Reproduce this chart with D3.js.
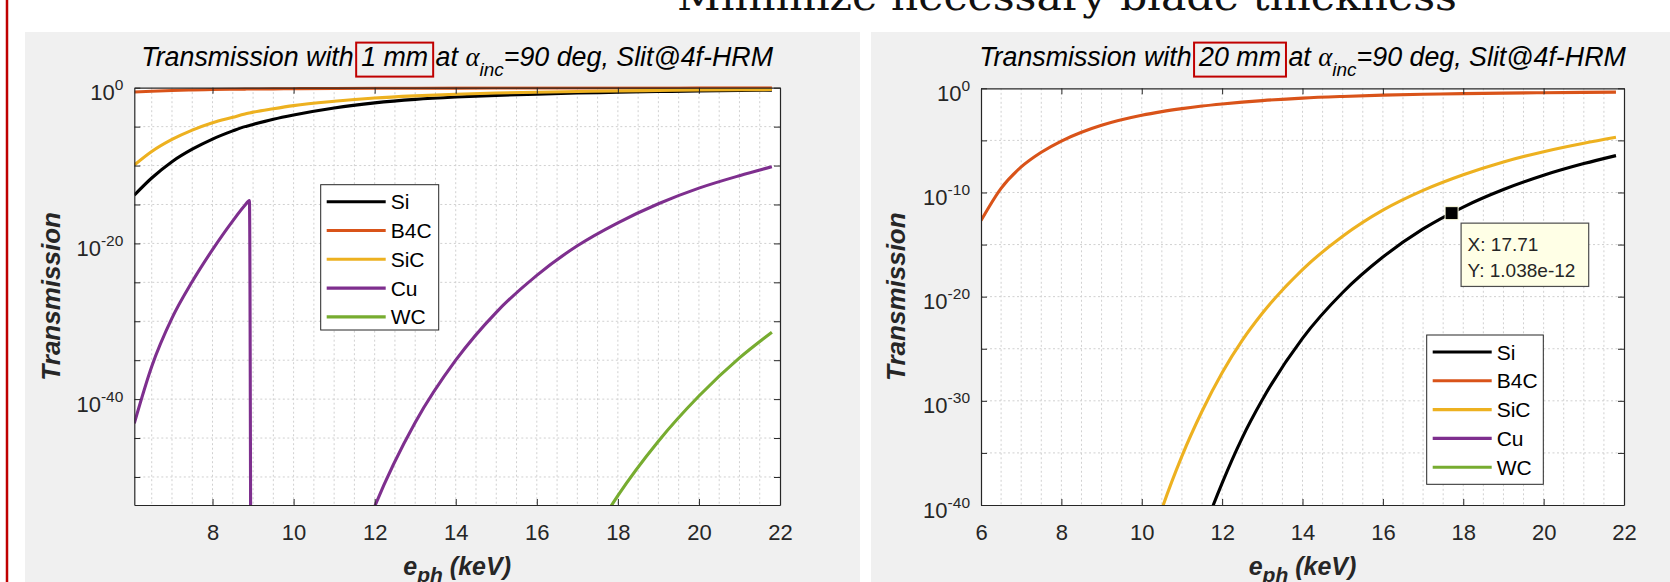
<!DOCTYPE html>
<html>
<head>
<meta charset="utf-8">
<script src="https://cdn.jsdelivr.net/npm/d3@7/dist/d3.min.js"></script>
<style>
  body { margin: 0; background: #fff; }
  svg { display: block; font-family: "Liberation Sans", Arial, Helvetica, sans-serif; }
</style>
</head>
<body>
<svg id="fig" width="1670" height="582"></svg>
<script>
// photon energy (keV) and log10(transmission)
const materials = ["Si", "B4C", "SiC", "Cu", "WC"];

const energy1mm = [6.07, 6.5, 7, 7.5, 8, 8.5, 8.8, 8.91, 8.98, 9.5, 10, 11, 12, 13, 14, 15, 16, 17, 18, 19, 20, 21, 21.8];
const si1mm  = [-13.8, -11.6, -9.5, -7.9, -6.6, -5.55, -5.0, -4.85, -4.75, -4.05, -3.5, -2.6, -1.95, -1.5, -1.2, -0.98, -0.82, -0.69, -0.58, -0.49, -0.42, -0.36, -0.32];
const b4c1mm = [-0.55, -0.45, -0.36, -0.29, -0.24, -0.2, -0.18, -0.17, -0.17, -0.15, -0.13, -0.1, -0.08, -0.067, -0.055, -0.048, -0.042, -0.038, -0.034, -0.031, -0.028, -0.026, -0.024];
const sic1mm = [-9.94, -8.2, -6.65, -5.45, -4.5, -3.8, -3.38, -3.25, -3.17, -2.7, -2.3, -1.75, -1.33, -1.05, -0.84, -0.69, -0.58, -0.49, -0.42, -0.36, -0.3, -0.26, -0.24];
const cu1mm  = [-43.1, -35.8, -29.6, -24.9, -20.8, -17.1, -15.1, -14.5, -120, -103, -89.4, -68.5, -53.8, -43.0, -35.0, -28.85, -24.1, -20.3, -17.35, -14.9, -12.9, -11.3, -10.15];
const wc1mm  = [null, null, null, null, null, null, null, null, null, null, null, null, null, null, -102.6, -85.3, -71.8, -61.1, -52.4, -45.4, -39.6, -34.7, -31.4];

const energy20mm = [6, 6.5, 7, 7.5, 8, 8.5, 9, 10, 10.5, 11, 11.5, 12, 12.5, 13, 14, 15, 16, 17, 18, 19, 20, 21, 21.8];
const si20mm  = [null, null, null, null, null, null, -95, -67, -57, -49.0, -42.9, -37.9, -33.55, -29.9, -24.0, -19.6, -16.2, -13.5, -11.4, -9.72, -8.35, -7.23, -6.46];
const b4c20mm = [-12.7, -9.6, -7.55, -6.14, -5.06, -4.22, -3.55, -2.59, -2.24, -1.95, -1.7, -1.5, -1.33, -1.18, -0.94, -0.78, -0.655, -0.57, -0.51, -0.46, -0.42, -0.39, -0.37];
const sic20mm = [null, null, null, null, null, -75, -63, -46.7, -40.4, -35.3, -31.0, -27.3, -24.2, -21.6, -17.4, -14.2, -11.7, -9.8, -8.3, -7.07, -6.08, -5.27, -4.7];
const cu20mm  = [-880, -708, -586, -490, -410, -344, -2300, -1780, -1560, -1370, -1210, -1064, -950, -872, -700, -580, -484, -408, -350, -300, -258, -222, -203];
const wc20mm  = [null, null, null, null, null, null, null, null, null, null, null, null, null, null, null, null, -1436, -1222, -1048, -908, -792, -694, -628];

const xTicks1mm = [8, 10, 12, 14, 16, 18, 20, 22];
const xTicks20mm = [6, 8, 10, 12, 14, 16, 18, 20, 22];
const yTicks1mm = [0, -5, -10, -15, -20, -25, -30, -35, -40, -45, -50];
const yLabels1mm = [0, -20, -40];
const yTicks20mm = [0, -5, -10, -15, -20, -25, -30, -35, -40];
const yLabels20mm = [0, -10, -20, -30, -40];

// data tip on the 20 mm Si curve
const tipEnergy = 17.71;
const tipTrans = 1.038e-12;

const colors = ["#000000", "#D95319", "#EDB120", "#7E2F8E", "#77AC30"];
const ink = "#262626";

const svg = d3.select("#fig");

// slide decoration: red rule on the left, heading cut off at top
svg.append("line").attr("x1", 7).attr("x2", 7).attr("y1", 0).attr("y2", 582)
  .attr("stroke", "#c00000").attr("stroke-width", 2.5);
svg.append("text").attr("x", 1067).attr("y", 10).attr("text-anchor", "middle")
  .attr("font-family", "'DejaVu Serif', 'Liberation Serif', serif").attr("font-size", 40)
  .attr("textLength", 780).attr("lengthAdjust", "spacingAndGlyphs")
  .attr("fill", "#111").text("Minimize necessary blade thickness");

function drawPanel(p) {
  const x = d3.scaleLinear().domain(p.xDomain).range([p.left, p.right]);
  const y = d3.scaleLinear().domain([p.yMin, 0]).range([p.bottom, p.top]);
  const g = svg.append("g");

  g.append("rect").attr("x", p.bgX).attr("y", 32).attr("width", p.bgW).attr("height", 550).attr("fill", "#f0f0f0");
  g.append("rect").attr("x", p.left).attr("y", p.top)
    .attr("width", p.right - p.left).attr("height", p.bottom - p.top).attr("fill", "#fff");

  // dotted grid: every 0.5 keV, every 5 decades
  const gx = d3.range(Math.ceil(p.xDomain[0] * 2) / 2, p.xDomain[1] + 0.001, 0.5)
    .filter(v => v > p.xDomain[0] && v < p.xDomain[1]);
  g.append("g").selectAll("line").data(gx).join("line")
    .attr("x1", d => x(d)).attr("x2", d => x(d)).attr("y1", p.top).attr("y2", p.bottom)
    .attr("stroke", "#d0d0d0").attr("stroke-dasharray", "2,2.5");
  g.append("g").selectAll("line").data(p.yTicks.filter(v => v > p.yMin && v < 0)).join("line")
    .attr("x1", p.left).attr("x2", p.right).attr("y1", d => y(d)).attr("y2", d => y(d))
    .attr("stroke", "#d0d0d0").attr("stroke-dasharray", "2,2.5");

  // curves
  const clipId = "clip" + p.id;
  svg.append("clipPath").attr("id", clipId).append("rect")
    .attr("x", p.left).attr("y", p.top - 1.5).attr("width", p.right - p.left).attr("height", p.bottom - p.top + 1.5);
  const line = d3.line()
    .defined(d => d[1] != null)
    .x(d => x(d[0])).y(d => y(d[1]))
    .curve(d3.curveMonotoneX);
  const lines = g.append("g").attr("clip-path", "url(#" + clipId + ")");
  p.series.forEach((vals, i) => {
    lines.append("path").datum(p.energy.map((e, k) => [e, vals[k]]))
      .attr("d", line).attr("fill", "none").attr("stroke", colors[i])
      .attr("stroke-width", 3.1).attr("stroke-linejoin", "round");
  });

  // axes, ticks pointing inward on all four sides
  const axisStyle = sel => {
    sel.selectAll("path.domain").attr("stroke", ink).attr("stroke-width", 1.2);
    sel.selectAll(".tick line").attr("stroke", ink).attr("stroke-width", 1);
  };
  g.append("g").attr("transform", "translate(0," + p.bottom + ")")
    .call(d3.axisBottom(x).tickValues(p.xTicks).tickSize(-6).tickSizeOuter(0).tickPadding(19.5).tickFormat(d3.format("d")))
    .call(axisStyle)
    .call(s => s.selectAll("text").attr("fill", ink).attr("font-size", 22).attr("font-family", null));
  g.append("g").attr("transform", "translate(0," + p.top + ")")
    .call(d3.axisTop(x).tickValues(p.xTicks).tickSize(-6).tickSizeOuter(0).tickFormat(""))
    .call(axisStyle);
  g.append("g").attr("transform", "translate(" + p.left + ",0)")
    .call(d3.axisLeft(y).tickValues(p.yTicks).tickSize(-6).tickSizeOuter(0).tickFormat(""))
    .call(axisStyle);
  g.append("g").attr("transform", "translate(" + p.right + ",0)")
    .call(d3.axisRight(y).tickValues(p.yTicks).tickSize(-6).tickSizeOuter(0).tickFormat(""))
    .call(axisStyle);

  // 10^n labels
  const yl = g.append("g").selectAll("text").data(p.yLabels).join("text")
    .attr("x", p.left - 11).attr("y", d => y(d) + 12.5)
    .attr("text-anchor", "end").attr("font-size", 22).attr("fill", ink);
  yl.append("tspan").text("10");
  yl.append("tspan").attr("dy", -10).attr("font-size", 15.5).text(d => d === 0 ? "0" : String(d));

  // axis labels
  g.append("text").attr("transform", "translate(" + p.yLabelX + "," + ((p.top + p.bottom) / 2) + ") rotate(-90)")
    .attr("text-anchor", "middle").attr("font-size", 26).attr("font-weight", "bold").attr("font-style", "italic")
    .attr("fill", ink).text("Transmission");
  const xl = g.append("text").attr("x", (p.left + p.right) / 2).attr("y", 575)
    .attr("text-anchor", "middle").attr("font-size", 25).attr("font-weight", "bold").attr("font-style", "italic")
    .attr("fill", ink);
  xl.append("tspan").text("e");
  xl.append("tspan").attr("dy", 7).attr("font-size", 21).text("ph");
  xl.append("tspan").attr("dy", -7).text(" (keV)");

  // title with boxed thickness
  const pre = "Transmission with ";
  const t = g.append("text").attr("x", (p.left + p.right) / 2).attr("y", 66)
    .attr("text-anchor", "middle").attr("font-size", 26.8).attr("font-style", "italic").attr("fill", "#000");
  t.append("tspan").text(pre);
  t.append("tspan").text(p.thickness);
  t.append("tspan").text(" at ");
  t.append("tspan").attr("font-family", "'Liberation Serif', serif").text("α");
  t.append("tspan").attr("dy", 10).attr("font-size", 19).text("inc");
  t.append("tspan").attr("dy", -10).text("=90 deg, Slit@4f-HRM");
  const a = t.node().getExtentOfChar(pre.length);
  const b = t.node().getExtentOfChar(pre.length + p.thickness.length - 1);
  g.append("rect").attr("x", a.x - 5).attr("y", 42.6)
    .attr("width", b.x + b.width - a.x + 10).attr("height", 34)
    .attr("fill", "none").attr("stroke", "#c00000").attr("stroke-width", 2);

  // legend
  const L = p.legend;
  const lg = g.append("g").attr("transform", "translate(" + L.x + "," + L.y + ")");
  lg.append("rect").attr("width", L.w).attr("height", L.h).attr("fill", "#fff").attr("stroke", ink).attr("stroke-width", 1);
  materials.forEach((m, i) => {
    const cy = 17 + i * 28.8;
    lg.append("line").attr("x1", 6).attr("x2", 65).attr("y1", cy).attr("y2", cy)
      .attr("stroke", colors[i]).attr("stroke-width", 3.1);
    lg.append("text").attr("x", 70).attr("y", cy + 7.5).attr("font-size", 21).attr("fill", "#000").text(m);
  });

  return { x, y, g };
}

drawPanel({
  id: "1mm", thickness: "1 mm",
  bgX: 25, bgW: 835,
  left: 134.3, right: 780, top: 87.7, bottom: 505,
  xDomain: [6.07, 22], yMin: -53.6,
  xTicks: xTicks1mm, yTicks: yTicks1mm, yLabels: yLabels1mm,
  yLabelX: 60,
  energy: energy1mm, series: [si1mm, b4c1mm, sic1mm, cu1mm, wc1mm],
  legend: { x: 320.7, y: 184.7, w: 118, h: 145.3 }
});

const right = drawPanel({
  id: "20mm", thickness: "20 mm",
  bgX: 871, bgW: 799,
  left: 981, right: 1624, top: 88.3, bottom: 505,
  xDomain: [6, 22], yMin: -40,
  xTicks: xTicks20mm, yTicks: yTicks20mm, yLabels: yLabels20mm,
  yLabelX: 905,
  energy: energy20mm, series: [si20mm, b4c20mm, sic20mm, cu20mm, wc20mm],
  legend: { x: 1426.7, y: 335, w: 116.6, h: 149.3 }
});

// data tip
const px = right.x(tipEnergy), py = right.y(Math.log10(tipTrans));
const tip = right.g.append("g");
tip.append("rect").attr("x", px - 6.5).attr("y", py - 6.5).attr("width", 13).attr("height", 13)
  .attr("fill", "#000").attr("stroke", "#ffffe0").attr("stroke-width", 1);
tip.append("rect").attr("x", px + 9.5).attr("y", py + 10).attr("width", 127.6).attr("height", 63.3)
  .attr("fill", "#ffffe6").attr("stroke", "#4d4d4d").attr("stroke-width", 1.2);
tip.append("text").attr("x", px + 16).attr("y", py + 37.5).attr("font-size", 19).attr("fill", ink)
  .text("X: " + tipEnergy);
tip.append("text").attr("x", px + 16).attr("y", py + 63.5).attr("font-size", 19).attr("fill", ink)
  .text("Y: " + tipTrans.toExponential(3));
</script>
</body>
</html>
